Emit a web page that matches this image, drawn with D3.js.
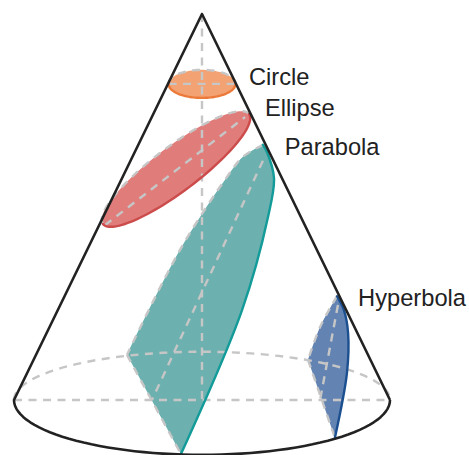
<!DOCTYPE html>
<html><head><meta charset="utf-8">
<script src="https://cdn.jsdelivr.net/npm/d3@7"></script>
<style>html,body{margin:0;padding:0;background:#fff;overflow:hidden}svg{display:block}</style>
</head><body><svg id="c" width="469" height="455"></svg>
<script>
// All values are in cone units: u = -100..100 across the base, v = 0..100 base to apex.
const apex = [0, 100];
const baseLeft = [-100, 0];
const baseRight = [100, 0];
const baseRadiusTop = 12.5;
const baseRadiusBottom = 14.2;

const circleCentre = [0, 81.9];
const circleRadii = [17.8, 3.63];

const ellipseTips = [[-52.7, 45.6], [25, 74.1]];
const ellipseAxis = [[-51.6, 45.3], [22.9, 73.3]];
const ellipseMinorRatio = 0.245;

const parabolaUpper = [[32.4, 66.1], [21.8, 63], [13.3, 57.8], [-11.7, 38.9], [-39.9, 11.7]];
const parabolaChord = [[-39.9, 11.7], [-11.2, -14]];
const parabolaLower = [[-11.2, -14], [21.3, 23.3], [35.1, 47.4], [38.3, 57.5], [34.6, 64.2], [32.4, 66.1]];
const parabolaAxis = [[32.4, 62], [-26.6, 0]];

const hyperbolaUpper = [[71.8, 26.9], [62.8, 18.9], [56.4, 10.4]];
const hyperbolaChord = [[56.4, 10.4], [70.7, -9.8]];
const hyperbolaLower = [[70.7, -9.8], [77.1, 7], [77.7, 17.4], [75.5, 23.3], [71.8, 26.9]];
const hyperbolaAxis = [[72.3, 24.6], [62.8, 0]];

const labelNames = ["Circle", "Ellipse", "Parabola", "Hyperbola"];
const labelAnchors = [[25, 81.6], [33.5, 73.6], [44, 63.4], [83, 24.4]];

const x = d3.scaleLinear().domain([-100, 100]).range([14, 390]);
const y = d3.scaleLinear().domain([0, 100]).range([400, 14]);
const svg = d3.select("#c");
const curve = d3.line().x(d => x(d[0])).y(d => y(d[1])).curve(d3.curveCatmullRom.alpha(0.5));
const straight = d3.line().x(d => x(d[0])).y(d => y(d[1]));
const GREY = "#c6c6c6", DASH = "8 6.5";

// half ellipse in pixel space, from t0 to t1
function arcPx(cx, cy, a, b, tilt, t0, t1) {
  const n = 60, cos = Math.cos(tilt), sin = Math.sin(tilt);
  return d3.range(n + 1).map(i => {
    const t = t0 + (t1 - t0) * i / n, px = a * Math.cos(t), py = b * Math.sin(t);
    return [cx + px * cos - py * sin, cy + px * sin + py * cos];
  });
}
const pxLine = d3.line();
const pxPath = pts => pxLine(pts);
const dashed = (g, d) => g.append("path").attr("d", d).attr("fill", "none").attr("stroke", GREY).attr("stroke-width", 2.4).attr("stroke-dasharray", DASH);
const solid = (g, d, c, w) => g.append("path").attr("d", d).attr("fill", "none").attr("stroke", c).attr("stroke-width", w).attr("stroke-linecap", "round");

// fills
const cx0 = x(circleCentre[0]), cy0 = y(circleCentre[1]);
const ca = x(circleRadii[0]) - x(0), cb = y(0) - y(circleRadii[1]);
const cTop = arcPx(cx0, cy0, ca, cb, 0, Math.PI, 2 * Math.PI), cBot = arcPx(cx0, cy0, ca, cb, 0, 0, Math.PI);
svg.append("path").attr("d", pxPath(cTop.concat(cBot)) + "Z").attr("fill", "#f2a273");

const [t0, t1] = ellipseTips.map(p => [x(p[0]), y(p[1])]);
const ex = (t0[0] + t1[0]) / 2, ey = (t0[1] + t1[1]) / 2;
const ea = Math.hypot(t1[0] - t0[0], t1[1] - t0[1]) / 2, eb = ea * ellipseMinorRatio;
const tilt = Math.atan2(t1[1] - t0[1], t1[0] - t0[0]);
const eTop = arcPx(ex, ey, ea, eb, tilt, Math.PI, 2 * Math.PI), eBot = arcPx(ex, ey, ea, eb, tilt, 0, Math.PI);
svg.append("path").attr("d", pxPath(eTop.concat(eBot)) + "Z").attr("fill", "#e07d7b");

const shapePath = (upper, chord, lower) => curve(upper) + "L" + x(chord[1][0]) + "," + y(chord[1][1]) + curve(lower).replace(/^M[^CL]*/, "") + "Z";
svg.append("path").attr("d", shapePath(parabolaUpper, parabolaChord, parabolaLower)).attr("fill", "#6cb1af");
svg.append("path").attr("d", shapePath(hyperbolaUpper, hyperbolaChord, hyperbolaLower)).attr("fill", "#6384b3");

// hidden construction lines
const bx = x(0), by = y(0), brx = x(100) - x(0);
const gd = svg.append("g");
dashed(gd, straight([apex, [0, 0]]));
dashed(gd, straight([baseLeft, baseRight]));
dashed(gd, pxPath(arcPx(bx, by, brx, y(0) - y(baseRadiusTop), 0, Math.PI, 2 * Math.PI)));
dashed(gd, pxPath(cTop));
dashed(gd, straight([[-circleRadii[0], circleCentre[1]], [circleRadii[0], circleCentre[1]]]));
dashed(gd, pxPath(eTop));
dashed(gd, straight(ellipseAxis));
dashed(gd, curve(parabolaUpper));
dashed(gd, straight(parabolaChord));
dashed(gd, straight(parabolaAxis));
dashed(gd, curve(hyperbolaUpper));
dashed(gd, straight(hyperbolaChord));
dashed(gd, straight(hyperbolaAxis));

// visible edges
solid(svg, pxPath(cBot), "#ec7a3a", 2.4);
solid(svg, pxPath(eBot), "#cc4b4b", 2.4);
solid(svg, curve(parabolaLower), "#129b98", 2.4);
solid(svg, curve(hyperbolaLower), "#1c4f8f", 2.4);

// cone outline
const outline = pxPath(arcPx(bx, by, brx, y(0) - y(baseRadiusBottom), 0, Math.PI, 0));
svg.append("path")
  .attr("d", straight([baseRight, apex, baseLeft]) + outline.replace(/^M/, "L"))
  .attr("fill", "none").attr("stroke", "#222").attr("stroke-width", 2.6).attr("stroke-linejoin", "round");

// labels
svg.selectAll("text.l").data(labelNames).join("text").attr("class", "l")
  .attr("x", (d, i) => x(labelAnchors[i][0]))
  .attr("y", (d, i) => y(labelAnchors[i][1]))
  .attr("font-family", "'Liberation Sans', Arial, sans-serif")
  .attr("font-size", 23.7).attr("fill", "#222")
  .text(d => d);
</script></body></html>
